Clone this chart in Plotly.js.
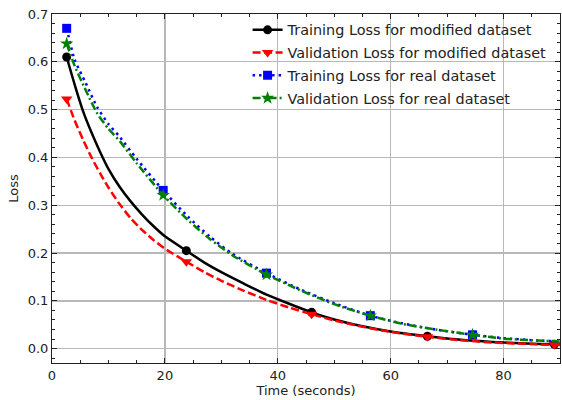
<!DOCTYPE html>
<html>
<head>
<meta charset="utf-8">
<script src="https://cdn.plot.ly/plotly-3.0.1.min.js"></script>
<style>html,body{margin:0;padding:0;background:#fff;}#chart{width:562px;height:400px;}</style>
</head>
<body>
<div id="chart"></div>
<script>
// Time points (seconds) for the modified-dataset curves
var timeModified = [2.6, 4, 5.5, 7, 8.5, 10, 12, 14, 16, 18, 20, 23.8, 27, 30, 34, 38, 42, 46, 50, 55, 60, 66.5, 72, 78, 84, 89, 92];
var trainLossModified = [0.61, 0.553, 0.497, 0.452, 0.412, 0.376, 0.338, 0.307, 0.28, 0.256, 0.235, 0.205, 0.18, 0.16, 0.136, 0.113, 0.094, 0.076, 0.061, 0.047, 0.036, 0.026, 0.019, 0.014, 0.011, 0.009, 0.008];
var valLossModified = [0.522, 0.478, 0.437, 0.4, 0.367, 0.337, 0.302, 0.272, 0.248, 0.227, 0.209, 0.182, 0.16, 0.142, 0.121, 0.102, 0.086, 0.072, 0.059, 0.046, 0.035, 0.025, 0.018, 0.013, 0.01, 0.008, 0.007];
var markerIdxModified = [0, 11, 17, 21, 25];

// Time points (seconds) for the real-dataset curves
var timeReal = [2.6, 4, 6, 8, 10, 12, 15, 19.7, 24, 28, 32, 38, 44, 50, 56.4, 62, 68, 74.5, 80, 86, 92.6];
var trainLossReal = [0.67, 0.605, 0.555, 0.505, 0.47, 0.443, 0.397, 0.331, 0.277, 0.234, 0.198, 0.158, 0.124, 0.095, 0.069, 0.053, 0.04, 0.029, 0.022, 0.017, 0.014];
var valLossReal = [0.638, 0.592, 0.54, 0.492, 0.46, 0.434, 0.388, 0.321, 0.27, 0.229, 0.195, 0.155, 0.122, 0.093, 0.069, 0.052, 0.04, 0.029, 0.021, 0.017, 0.014];
var markerIdxReal = [0, 7, 11, 14, 17, 20];

var seriesNames = ["Training Loss for modified dataset", "Validation Loss for modified dataset", "Training Loss for real dataset", "Validation Loss for real dataset"];
var xTicks = [0, 20, 40, 60, 80];
var yTicks = [0.0, 0.1, 0.2, 0.3, 0.4, 0.5, 0.6, 0.7];
var yTickText = ["0.0", "0.1", "0.2", "0.3", "0.4", "0.5", "0.6", "0.7"];

function mk(name, x, y, idx, color, dash, width, symbol, msize, group) {
  return {
    type: 'scatter', mode: 'lines+markers', name: name, x: x, y: y,
    legendgroup: group,
    line: {color: color, width: width, dash: dash, shape: 'spline', smoothing: 0.6},
    marker: {color: color, symbol: symbol, size: msize},
    selectedpoints: idx,
    selected: {marker: {opacity: 1}},
    unselected: {marker: {opacity: 0}},
    cliponaxis: true
  };
}

var traces = [
  mk(seriesNames[0], timeModified, trainLossModified, markerIdxModified, '#000000', 'solid', 2.5, 'circle', 9, 'a'),
  mk(seriesNames[1], timeModified, valLossModified, markerIdxModified, '#ff0000', '8px,3.5px', 2.5, 'triangle-down', 10, 'b'),
  mk(seriesNames[2], timeReal, trainLossReal, markerIdxReal, '#0000ff', '2.5px,4px', 2.5, 'square', 9, 'c'),
  mk(seriesNames[3], timeReal, valLossReal, markerIdxReal, '#008000', '8px,3px,2px,3px', 2.5, 'star', 10, 'd')
];

var axisCommon = {
  showline: true, linecolor: '#222', linewidth: 1, mirror: 'allticks',
  ticks: 'inside', ticklen: 5, tickwidth: 1, tickcolor: '#222',
  showgrid: true, gridcolor: '#b8b8b8', gridwidth: 1.3, zeroline: false,
  tickfont: {family: 'DejaVu Sans', size: 13, color: '#222'}
};

var layout = {
  width: 562, height: 400,
  margin: {l: 52, r: 2, t: 14, b: 37},
  paper_bgcolor: '#fff', plot_bgcolor: '#fff',
  font: {family: 'DejaVu Sans', color: '#222'},
  showlegend: true,
  legend: {x: 0.385, y: 1.0, xanchor: 'left', yanchor: 'top', bgcolor: 'rgba(0,0,0,0)', borderwidth: 0,
           font: {family: 'DejaVu Sans', size: 14.4, color: '#222'}, tracegroupgap: 1, traceorder: 'grouped'},
  xaxis: Object.assign({}, axisCommon, {
    range: [0, 90], tickvals: xTicks, ticktext: xTicks.map(String),
    minor: {dtick: 5, ticks: 'inside', ticklen: 3, tickcolor: '#222', showgrid: false},
    title: {text: 'Time (seconds)', font: {family: 'DejaVu Sans', size: 13, color: '#222'}, standoff: 4}
  }),
  yaxis: Object.assign({}, axisCommon, {
    range: [-0.03, 0.7], tickvals: yTicks, ticktext: yTickText,
    minor: {dtick: 0.02, tick0: 0, ticks: 'inside', ticklen: 3, tickcolor: '#222', showgrid: false},
    title: {text: 'Loss', font: {family: 'DejaVu Sans', size: 13, color: '#222'}, standoff: 6}
  })
};

Plotly.newPlot('chart', traces, layout, {displayModeBar: false, staticPlot: true});
</script>
</body>
</html>
